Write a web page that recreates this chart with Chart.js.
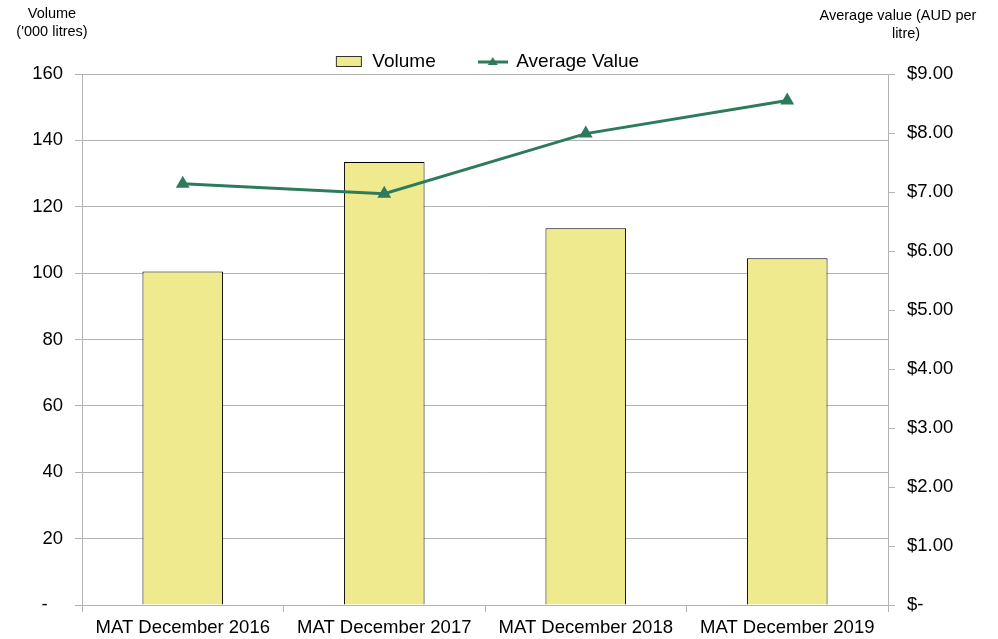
<!DOCTYPE html>
<html>
<head>
<meta charset="utf-8">
<script src="https://cdn.jsdelivr.net/npm/chart.js@4/dist/chart.umd.min.js"></script>
<style>
  html, body { margin: 0; padding: 0; background: #fff; }
  canvas { display: block; }
</style>
</head>
<body>
<canvas id="chart" width="998" height="639"></canvas>
<script>
const categories = ['MAT December 2016', 'MAT December 2017', 'MAT December 2018', 'MAT December 2019'];
const volume = [100.5, 133.5, 113.5, 104.5];
const avgValue = [7.14, 6.97, 7.99, 8.55];

const FONT = "'Liberation Sans', Arial, sans-serif";
const BAR_FILL = '#F0EA8E';
const LINE_COLOR = '#2E7B5C';
const GRID = '#B3B3B3';

// little legend swatches drawn to look like the Excel ones
function swatch(w, h, draw) {
  const c = document.createElement('canvas');
  c.width = w; c.height = h;
  draw(c.getContext('2d'));
  return c;
}
const volSwatch = swatch(28, 13, ctx => {
  ctx.fillStyle = BAR_FILL;
  ctx.fillRect(1, 1, 26, 11);
  ctx.strokeStyle = '#333';
  ctx.lineWidth = 1;
  ctx.strokeRect(1.5, 1.5, 25, 10);
});
const lineSwatch = swatch(30, 13, ctx => {
  ctx.strokeStyle = LINE_COLOR;
  ctx.lineWidth = 3;
  ctx.beginPath(); ctx.moveTo(0, 7); ctx.lineTo(30, 7); ctx.stroke();
  ctx.fillStyle = LINE_COLOR;
  ctx.beginPath(); ctx.moveTo(15, 2); ctx.lineTo(20, 10); ctx.lineTo(10, 10); ctx.closePath(); ctx.fill();
});

const axisTitles = {
  id: 'axisTitles',
  afterLayout(chart) {
    // Excel centres the legend a bit left of the canvas middle
    chart.legend.left -= 12;
    chart.legend.right -= 12;
  },
  afterDraw(chart) {
    const ctx = chart.ctx;
    ctx.save();
    ctx.fillStyle = '#000';
    ctx.font = `14.5px ${FONT}`;
    ctx.textAlign = 'center';
    ctx.textBaseline = 'middle';
    ctx.fillText('Volume', 52, 14);
    ctx.fillText("('000 litres)", 52, 32);
    ctx.fillText('Average value (AUD per', 898, 16);
    ctx.fillText('litre)', 906, 34);
    ctx.restore();
  }
};

new Chart(document.getElementById('chart'), {
  data: {
    labels: categories,
    datasets: [
      {
        type: 'line',
        label: 'Average Value',
        data: avgValue,
        yAxisID: 'y1',
        borderColor: LINE_COLOR,
        backgroundColor: LINE_COLOR,
        borderWidth: 3,
        pointStyle: 'triangle',
        pointRadius: 5,
        pointHoverRadius: 5,
        tension: 0,
        order: 0
      },
      {
        type: 'bar',
        label: 'Volume',
        data: volume,
        yAxisID: 'y',
        backgroundColor: BAR_FILL,
        borderColor: '#000',
        borderWidth: 1,
        categoryPercentage: 1,
        barPercentage: 0.4,
        order: 1
      }
    ]
  },
  options: {
    responsive: false,
    animation: false,
    devicePixelRatio: 1,
    layout: { padding: { top: 9, right: 0, left: 0, bottom: 0 } },
    plugins: {
      tooltip: { enabled: false },
      legend: {
        position: 'top',
        maxHeight: 65,
        labels: {
          font: { family: FONT, size: 19 },
          color: '#000',
          usePointStyle: true,
          pointStyleWidth: 28,
          boxHeight: 12,
          padding: 43,
          sort: (a, b) => (a.text === 'Volume' ? -1 : 1),
          generateLabels: chart => chart.data.datasets.map((ds, i) => ({
            text: ds.label,
            datasetIndex: i,
            pointStyle: ds.type === 'bar' ? volSwatch : lineSwatch,
            fillStyle: ds.backgroundColor,
            strokeStyle: ds.borderColor,
            lineWidth: 0,
            fontColor: '#000'
          }))
        }
      }
    },
    scales: {
      x: {
        offset: true,
        grid: { drawOnChartArea: false, color: GRID, tickLength: 7, offset: true },
        border: { color: GRID },
        ticks: { font: { family: FONT, size: 18.5 }, color: '#000', padding: 5, maxRotation: 0 },
        afterFit: s => { s.height = 34; }
      },
      y: {
        position: 'left',
        min: 0, max: 160,
        grid: { color: GRID, tickLength: 7 },
        border: { color: GRID },
        ticks: {
          stepSize: 20,
          font: { family: FONT, size: 18.5 },
          color: '#000',
          padding: 12,
          callback: v => (v === 0 ? '-   ' : v)
        },
        afterFit: s => { s.width = 82; }
      },
      y1: {
        position: 'right',
        min: 0, max: 9,
        grid: { drawOnChartArea: false, color: GRID, tickLength: 7 },
        border: { color: GRID },
        ticks: {
          stepSize: 1,
          font: { family: FONT, size: 18.5 },
          color: '#000',
          padding: 12,
          callback: v => (v === 0 ? '$-' : '$' + v.toFixed(2))
        },
        afterFit: s => { s.width = 110; }
      }
    }
  },
  plugins: [axisTitles]
});
</script>
</body>
</html>
